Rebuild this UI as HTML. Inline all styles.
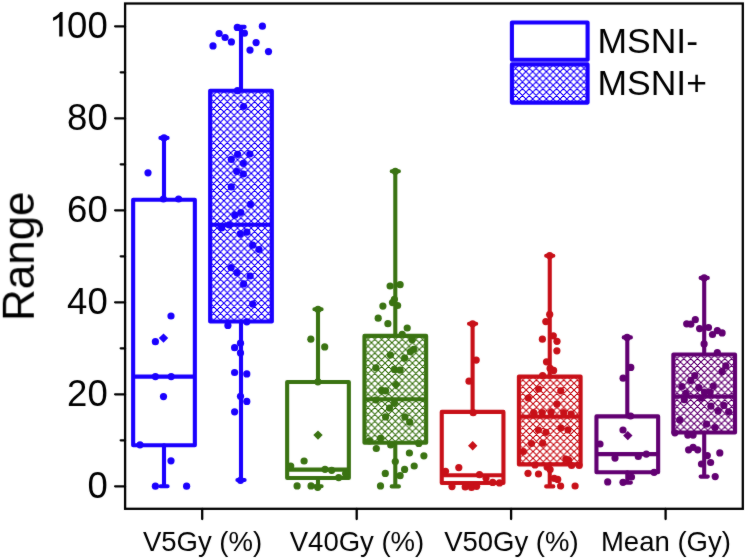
<!DOCTYPE html>
<html><head><meta charset="utf-8"><title>Box plot</title>
<style>
html,body{margin:0;padding:0;background:#fff;}
svg{display:block;}
text{font-family:"Liberation Sans",sans-serif;fill:#000;}
.yl{font-size:36.5px;}
.xl{font-size:27.5px;}
.at{font-size:44px;}
.lg{font-size:35.5px;}
</style></head>
<body>
<svg width="747" height="559" viewBox="0 0 747 559">
<defs><filter id="soft" x="0" y="0" width="747" height="559" filterUnits="userSpaceOnUse" color-interpolation-filters="sRGB"><feConvolveMatrix order="3" kernelMatrix="1 2 1 2 36 2 1 2 1" edgeMode="duplicate"/></filter><pattern id="h1" patternUnits="userSpaceOnUse" x="210.21" y="91.41" width="6.83" height="6.83"><path d="M-3.42,-3.42L10.25,10.25M10.25,-3.42L-3.42,10.25M-3.42,3.42L3.42,-3.42M3.42,10.25L10.25,3.42M-3.42,3.42L3.42,10.25M3.42,-3.42L10.25,3.42" stroke="#1a00ff" stroke-width="1.1" fill="none"/></pattern><pattern id="h3" patternUnits="userSpaceOnUse" x="364.61" y="335.8" width="6.83" height="6.83"><path d="M-3.42,-3.42L10.25,10.25M10.25,-3.42L-3.42,10.25M-3.42,3.42L3.42,-3.42M3.42,10.25L10.25,3.42M-3.42,3.42L3.42,10.25M3.42,-3.42L10.25,3.42" stroke="#3a7312" stroke-width="1.1" fill="none"/></pattern><pattern id="h5" patternUnits="userSpaceOnUse" x="519.38" y="376.4" width="6.83" height="6.83"><path d="M-3.42,-3.42L10.25,10.25M10.25,-3.42L-3.42,10.25M-3.42,3.42L3.42,-3.42M3.42,10.25L10.25,3.42M-3.42,3.42L3.42,10.25M3.42,-3.42L10.25,3.42" stroke="#c81018" stroke-width="1.1" fill="none"/></pattern><pattern id="h7" patternUnits="userSpaceOnUse" x="673.61" y="355.21" width="6.83" height="6.83"><path d="M-3.42,-3.42L10.25,10.25M10.25,-3.42L-3.42,10.25M-3.42,3.42L3.42,-3.42M3.42,10.25L10.25,3.42M-3.42,3.42L3.42,10.25M3.42,-3.42L10.25,3.42" stroke="#620072" stroke-width="1.1" fill="none"/></pattern><pattern id="hl" patternUnits="userSpaceOnUse" x="512.21" y="64.81" width="6.83" height="6.83"><path d="M-3.42,-3.42L10.25,10.25M10.25,-3.42L-3.42,10.25M-3.42,3.42L3.42,-3.42M3.42,10.25L10.25,3.42M-3.42,3.42L3.42,10.25M3.42,-3.42L10.25,3.42" stroke="#1a00ff" stroke-width="1.1" fill="none"/></pattern></defs>
<rect width="747" height="559" fill="#fff"/>
<rect x="210.15" y="90.7" width="61.7" height="230.8" fill="url(#h1)"/><rect x="364.45" y="335.9" width="61.7" height="106.8" fill="url(#h3)"/><rect x="518.9" y="376.6" width="61.7" height="87.8" fill="url(#h5)"/><rect x="673.35" y="354.5" width="61.7" height="78" fill="url(#h7)"/><rect x="511.9" y="64.4" width="75.7" height="38.2" fill="url(#hl)"/>
<g filter="url(#soft)">
<rect x="125.1" y="3.5" width="617.7" height="505.3" fill="none" stroke="#000" stroke-width="2.3"/>
<path d="M125.1,486.3H115.1M125.1,440.3H120.7M125.1,394.3H115.1M125.1,348.3H120.7M125.1,302.3H115.1M125.1,256.3H120.7M125.1,210.3H115.1M125.1,164.3H120.7M125.1,118.3H115.1M125.1,72.3H120.7M125.1,26.3H115.1M202.2,508.8V519.1M356.7,508.8V519.1M511.1,508.8V519.1M665.6,508.8V519.1" stroke="#000" stroke-width="2.3" stroke-linecap="round" fill="none"/>
<text x="107.7" y="497.7" text-anchor="end" class="yl">0</text>
<text x="107.7" y="405.7" text-anchor="end" class="yl">20</text>
<text x="107.7" y="313.7" text-anchor="end" class="yl">40</text>
<text x="107.7" y="221.7" text-anchor="end" class="yl">60</text>
<text x="107.7" y="129.7" text-anchor="end" class="yl">80</text>
<text x="107.7" y="37.7" text-anchor="end" class="yl">00</text>
<path d="M62.6,11.9L60.2,11.9C58.5,14.2 56,16.2 53.1,17.6L53.1,20.9C55.4,19.9 57.6,18.5 59.2,17L59.2,36.4L62.6,36.4Z" fill="#000"/>
<text x="202.5" y="550.6" text-anchor="middle" class="xl">V5Gy (%)</text>
<text x="357" y="550.6" text-anchor="middle" class="xl">V40Gy (%)</text>
<text x="511.4" y="550.6" text-anchor="middle" class="xl">V50Gy (%)</text>
<text x="665.9" y="550.6" text-anchor="middle" class="xl">Mean (Gy)</text>
<text transform="translate(33.8,256.3) rotate(-90)" text-anchor="middle" class="at">Range</text>
<path d="M164,199.7V137.9M160.4,137.9H167.6M164,445.2V486.3M160.4,486.3H167.6" stroke="#1a00ff" stroke-width="4.1" stroke-linecap="round" fill="none"/><rect x="133.15" y="199.7" width="61.7" height="245.5" fill="none" stroke="#1a00ff" stroke-width="4.1" stroke-linejoin="round"/><path d="M133.15,376.6H194.85" stroke="#1a00ff" stroke-width="4.1" fill="none"/><g fill="#1a00ff"><circle cx="148" cy="172.8" r="3.6"/><circle cx="164" cy="137.9" r="3.6"/><circle cx="163.4" cy="199" r="3.6"/><circle cx="178.6" cy="199" r="3.6"/><circle cx="171" cy="316" r="3.6"/><circle cx="155.4" cy="341.7" r="3.6"/><circle cx="155.4" cy="376.6" r="3.6"/><circle cx="171.2" cy="376.6" r="3.6"/><circle cx="163.5" cy="396.6" r="3.6"/><circle cx="140" cy="444.8" r="3.6"/><circle cx="171" cy="460.8" r="3.6"/><circle cx="155.4" cy="486.2" r="3.6"/><circle cx="186.6" cy="486.2" r="3.6"/></g><path d="M163.5,333.4L168.2,338.1L163.5,342.8L158.8,338.1Z" fill="#1a00ff"/>
<path d="M241,90.7V26.9M237.4,26.9H244.6M241,321.5V480M237.4,480H244.6" stroke="#1a00ff" stroke-width="4.1" stroke-linecap="round" fill="none"/><rect x="210.15" y="90.7" width="61.7" height="230.8" fill="none" stroke="#1a00ff" stroke-width="4.1" stroke-linejoin="round"/><path d="M210.15,224.8H271.85" stroke="#1a00ff" stroke-width="4.1" fill="none"/><g fill="#1a00ff"><circle cx="213" cy="45.9" r="3.6"/><circle cx="219.1" cy="33.5" r="3.6"/><circle cx="225.1" cy="37.5" r="3.6"/><circle cx="231.4" cy="41.9" r="3.6"/><circle cx="237.3" cy="27.4" r="3.6"/><circle cx="244.4" cy="33.2" r="3.6"/><circle cx="250" cy="50.1" r="3.6"/><circle cx="256.1" cy="42.6" r="3.6"/><circle cx="262.4" cy="26.2" r="3.6"/><circle cx="268.5" cy="51.6" r="3.6"/><circle cx="237.5" cy="90.7" r="3.6"/><circle cx="243.6" cy="106.5" r="3.6"/><circle cx="237.6" cy="154.3" r="3.6"/><circle cx="249.8" cy="154" r="3.6"/><circle cx="231.3" cy="159.3" r="3.6"/><circle cx="243.3" cy="163.3" r="3.6"/><circle cx="236.7" cy="171.3" r="3.6"/><circle cx="243.3" cy="174" r="3.6"/><circle cx="231.3" cy="186.9" r="3.6"/><circle cx="250.5" cy="204.4" r="3.6"/><circle cx="240.8" cy="212.5" r="3.6"/><circle cx="234.9" cy="215.2" r="3.6"/><circle cx="221.6" cy="227.9" r="3.6"/><circle cx="229.1" cy="224.9" r="3.6"/><circle cx="240.3" cy="233.8" r="3.6"/><circle cx="246.8" cy="232.2" r="3.6"/><circle cx="252.7" cy="245.2" r="3.6"/><circle cx="259" cy="249.5" r="3.6"/><circle cx="231.1" cy="267.6" r="3.6"/><circle cx="237" cy="272.7" r="3.6"/><circle cx="250.1" cy="276" r="3.6"/><circle cx="243.6" cy="283.9" r="3.6"/><circle cx="252.7" cy="304.1" r="3.6"/><circle cx="227.9" cy="325.4" r="3.6"/><circle cx="246.8" cy="321.8" r="3.6"/><circle cx="240.5" cy="343.2" r="3.6"/><circle cx="234.6" cy="347.7" r="3.6"/><circle cx="240.5" cy="352.9" r="3.6"/><circle cx="234.6" cy="372.5" r="3.6"/><circle cx="246.8" cy="373.9" r="3.6"/><circle cx="240.5" cy="396.3" r="3.6"/><circle cx="246.8" cy="401.4" r="3.6"/><circle cx="234.6" cy="411.8" r="3.6"/><circle cx="240.5" cy="480.3" r="3.6"/></g>
<path d="M318,382V309.3M314.4,309.3H321.6M318,478V486.3M314.4,486.3H321.6" stroke="#3a7312" stroke-width="4.1" stroke-linecap="round" fill="none"/><rect x="287.15" y="382" width="61.7" height="96" fill="none" stroke="#3a7312" stroke-width="4.1" stroke-linejoin="round"/><path d="M287.15,469.6H348.85" stroke="#3a7312" stroke-width="4.1" fill="none"/><g fill="#3a7312"><circle cx="318" cy="309.3" r="3.6"/><circle cx="310.8" cy="339.2" r="3.6"/><circle cx="324.7" cy="346.9" r="3.6"/><circle cx="317.9" cy="381.8" r="3.6"/><circle cx="304.1" cy="461" r="3.6"/><circle cx="290.7" cy="466" r="3.6"/><circle cx="325" cy="469.3" r="3.6"/><circle cx="331.7" cy="470.3" r="3.6"/><circle cx="338.7" cy="477.6" r="3.6"/><circle cx="345.6" cy="473.5" r="3.6"/><circle cx="297.1" cy="485.9" r="3.6"/><circle cx="311" cy="485.9" r="3.6"/><circle cx="317.7" cy="487.3" r="3.6"/></g><path d="M318,430.4L322.7,435.1L318,439.8L313.3,435.1Z" fill="#3a7312"/>
<path d="M395.3,335.9V171.3M391.7,171.3H398.9M395.3,442.7V486.4M391.7,486.4H398.9" stroke="#3a7312" stroke-width="4.1" stroke-linecap="round" fill="none"/><rect x="364.45" y="335.9" width="61.7" height="106.8" fill="none" stroke="#3a7312" stroke-width="4.1" stroke-linejoin="round"/><path d="M364.45,399.2H426.15" stroke="#3a7312" stroke-width="4.1" fill="none"/><g fill="#3a7312"><circle cx="395.3" cy="171.3" r="3.6"/><circle cx="390.1" cy="286" r="3.6"/><circle cx="400.1" cy="284.7" r="3.6"/><circle cx="394.4" cy="299.3" r="3.6"/><circle cx="392.5" cy="302.6" r="3.6"/><circle cx="397.6" cy="305.5" r="3.6"/><circle cx="382.9" cy="306.1" r="3.6"/><circle cx="378.2" cy="318.2" r="3.6"/><circle cx="387.9" cy="323.7" r="3.6"/><circle cx="407.2" cy="328" r="3.6"/><circle cx="402.2" cy="334.4" r="3.6"/><circle cx="412.1" cy="339.7" r="3.6"/><circle cx="413.8" cy="349.3" r="3.6"/><circle cx="410.5" cy="351.7" r="3.6"/><circle cx="390.4" cy="355" r="3.6"/><circle cx="404.6" cy="358.2" r="3.6"/><circle cx="375.9" cy="367.8" r="3.6"/><circle cx="394.4" cy="369.4" r="3.6"/><circle cx="400.1" cy="370.2" r="3.6"/><circle cx="381.6" cy="390.4" r="3.6"/><circle cx="385.6" cy="390.8" r="3.6"/><circle cx="375.9" cy="400" r="3.6"/><circle cx="394.4" cy="403.2" r="3.6"/><circle cx="389.6" cy="408.1" r="3.6"/><circle cx="385.6" cy="416.9" r="3.6"/><circle cx="404.9" cy="416.9" r="3.6"/><circle cx="409.7" cy="422.1" r="3.6"/><circle cx="380.5" cy="438.3" r="3.6"/><circle cx="369.5" cy="440.8" r="3.6"/><circle cx="418.8" cy="443.4" r="3.6"/><circle cx="390.7" cy="445" r="3.6"/><circle cx="376.3" cy="448.5" r="3.6"/><circle cx="409.4" cy="453" r="3.6"/><circle cx="423.9" cy="455.8" r="3.6"/><circle cx="395.3" cy="461.5" r="3.6"/><circle cx="414.2" cy="466" r="3.6"/><circle cx="404.6" cy="469.4" r="3.6"/><circle cx="385.3" cy="473.4" r="3.6"/><circle cx="400.1" cy="475.7" r="3.6"/><circle cx="380.5" cy="485.9" r="3.6"/></g><path d="M396,380L400.7,384.7L396,389.4L391.3,384.7Z" fill="#3a7312"/>
<path d="M472.6,411.9V323.8M469,323.8H476.2M472.6,483V486.3M469,486.3H476.2" stroke="#c81018" stroke-width="4.1" stroke-linecap="round" fill="none"/><rect x="441.75" y="411.9" width="61.7" height="71.1" fill="none" stroke="#c81018" stroke-width="4.1" stroke-linejoin="round"/><path d="M441.75,475.2H503.45" stroke="#c81018" stroke-width="4.1" fill="none"/><g fill="#c81018"><circle cx="472.6" cy="323.8" r="3.6"/><circle cx="476.2" cy="360.1" r="3.6"/><circle cx="469" cy="381.2" r="3.6"/><circle cx="473.2" cy="412.7" r="3.6"/><circle cx="458.8" cy="467.6" r="3.6"/><circle cx="445.5" cy="471.3" r="3.6"/><circle cx="479.5" cy="474.7" r="3.6"/><circle cx="486" cy="478.1" r="3.6"/><circle cx="492.7" cy="482.4" r="3.6"/><circle cx="499.5" cy="482.9" r="3.6"/><circle cx="452" cy="486.6" r="3.6"/><circle cx="465.2" cy="487" r="3.6"/><circle cx="471.5" cy="487.5" r="3.6"/><circle cx="476.6" cy="486.3" r="3.6"/></g><path d="M472.7,441.1L477.4,445.8L472.7,450.5L468,445.8Z" fill="#c81018"/>
<path d="M549.75,376.6V255.7M546.15,255.7H553.35M549.75,464.4V486.4M546.15,486.4H553.35" stroke="#c81018" stroke-width="4.1" stroke-linecap="round" fill="none"/><rect x="518.9" y="376.6" width="61.7" height="87.8" fill="none" stroke="#c81018" stroke-width="4.1" stroke-linejoin="round"/><path d="M518.9,416.7H580.6" stroke="#c81018" stroke-width="4.1" fill="none"/><g fill="#c81018"><circle cx="549.7" cy="255.7" r="3.6"/><circle cx="549.7" cy="314.4" r="3.6"/><circle cx="545.8" cy="321.6" r="3.6"/><circle cx="542.4" cy="339.2" r="3.6"/><circle cx="553.3" cy="335.8" r="3.6"/><circle cx="557" cy="341.3" r="3.6"/><circle cx="556.9" cy="350.8" r="3.6"/><circle cx="546.5" cy="361.8" r="3.6"/><circle cx="550.1" cy="368.4" r="3.6"/><circle cx="553.6" cy="370.4" r="3.6"/><circle cx="542.6" cy="375.5" r="3.6"/><circle cx="538.6" cy="389" r="3.6"/><circle cx="560.8" cy="390.8" r="3.6"/><circle cx="528.3" cy="398" r="3.6"/><circle cx="556.9" cy="404.1" r="3.6"/><circle cx="533.7" cy="412.7" r="3.6"/><circle cx="542.2" cy="412.7" r="3.6"/><circle cx="551.1" cy="412.2" r="3.6"/><circle cx="563.7" cy="412.7" r="3.6"/><circle cx="571.2" cy="414.1" r="3.6"/><circle cx="538.4" cy="430" r="3.6"/><circle cx="545.9" cy="432.3" r="3.6"/><circle cx="560.9" cy="428.1" r="3.6"/><circle cx="568" cy="429.8" r="3.6"/><circle cx="531.5" cy="443.5" r="3.6"/><circle cx="542.7" cy="443.2" r="3.6"/><circle cx="523.4" cy="451.5" r="3.6"/><circle cx="565.8" cy="459.1" r="3.6"/><circle cx="568.7" cy="460.2" r="3.6"/><circle cx="535" cy="464.9" r="3.6"/><circle cx="547.2" cy="467.2" r="3.6"/><circle cx="550.1" cy="469.5" r="3.6"/><circle cx="571.6" cy="465.5" r="3.6"/><circle cx="579.2" cy="465.5" r="3.6"/><circle cx="528" cy="473.3" r="3.6"/><circle cx="538.5" cy="474" r="3.6"/><circle cx="554.2" cy="478.3" r="3.6"/><circle cx="557.7" cy="479.4" r="3.6"/><circle cx="560.6" cy="486" r="3.6"/><circle cx="575.1" cy="486" r="3.6"/></g>
<path d="M627.3,416.4V337.4M623.7,337.4H630.9M627.3,472.2V482.6M623.7,482.6H630.9" stroke="#620072" stroke-width="4.1" stroke-linecap="round" fill="none"/><rect x="596.45" y="416.4" width="61.7" height="55.8" fill="none" stroke="#620072" stroke-width="4.1" stroke-linejoin="round"/><path d="M596.45,454.1H658.15" stroke="#620072" stroke-width="4.1" fill="none"/><g fill="#620072"><circle cx="627.1" cy="337.4" r="3.6"/><circle cx="630.8" cy="367.4" r="3.6"/><circle cx="623.1" cy="378.2" r="3.6"/><circle cx="630.6" cy="416" r="3.6"/><circle cx="623" cy="430" r="3.6"/><circle cx="600" cy="444" r="3.6"/><circle cx="615" cy="458.1" r="3.6"/><circle cx="638.3" cy="456.5" r="3.6"/><circle cx="646.3" cy="454.1" r="3.6"/><circle cx="654.1" cy="472.3" r="3.6"/><circle cx="631.5" cy="477" r="3.6"/><circle cx="607.7" cy="481.9" r="3.6"/><circle cx="623" cy="482.3" r="3.6"/></g><path d="M627.8,430.9L632.5,435.6L627.8,440.3L623.1,435.6Z" fill="#620072"/>
<path d="M704.2,354.5V277.9M700.6,277.9H707.8M704.2,432.5V476.6M700.6,476.6H707.8" stroke="#620072" stroke-width="4.1" stroke-linecap="round" fill="none"/><rect x="673.35" y="354.5" width="61.7" height="78" fill="none" stroke="#620072" stroke-width="4.1" stroke-linejoin="round"/><path d="M673.35,396.5H735.05" stroke="#620072" stroke-width="4.1" fill="none"/><g fill="#620072"><circle cx="704.2" cy="277.9" r="3.6"/><circle cx="686.7" cy="323.8" r="3.6"/><circle cx="690.8" cy="324.2" r="3.6"/><circle cx="695.3" cy="319.7" r="3.6"/><circle cx="699.6" cy="328.6" r="3.6"/><circle cx="708.5" cy="327.5" r="3.6"/><circle cx="712.5" cy="334.5" r="3.6"/><circle cx="717.3" cy="330.7" r="3.6"/><circle cx="722.1" cy="332.9" r="3.6"/><circle cx="704.1" cy="343.9" r="3.6"/><circle cx="717.3" cy="352.7" r="3.6"/><circle cx="725.8" cy="365.9" r="3.6"/><circle cx="722.1" cy="371.6" r="3.6"/><circle cx="694.8" cy="375.6" r="3.6"/><circle cx="690.8" cy="380.4" r="3.6"/><circle cx="713.3" cy="386" r="3.6"/><circle cx="681.9" cy="386.5" r="3.6"/><circle cx="698.8" cy="387.7" r="3.6"/><circle cx="685.9" cy="393.3" r="3.6"/><circle cx="704.4" cy="392" r="3.6"/><circle cx="710.1" cy="392" r="3.6"/><circle cx="684.3" cy="399.7" r="3.6"/><circle cx="701.2" cy="398.1" r="3.6"/><circle cx="710.9" cy="406.2" r="3.6"/><circle cx="723.8" cy="405.4" r="3.6"/><circle cx="718.1" cy="411" r="3.6"/><circle cx="728.6" cy="411.8" r="3.6"/><circle cx="679.8" cy="419.9" r="3.6"/><circle cx="706.5" cy="424.2" r="3.6"/><circle cx="715" cy="427.5" r="3.6"/><circle cx="674.9" cy="432.8" r="3.6"/><circle cx="687.8" cy="435.1" r="3.6"/><circle cx="693.1" cy="435.1" r="3.6"/><circle cx="688.6" cy="449.8" r="3.6"/><circle cx="693.1" cy="447.3" r="3.6"/><circle cx="697.7" cy="449.8" r="3.6"/><circle cx="707.3" cy="455.6" r="3.6"/><circle cx="719.8" cy="452.9" r="3.6"/><circle cx="701.5" cy="464" r="3.6"/><circle cx="710.6" cy="462.5" r="3.6"/><circle cx="715.2" cy="476.6" r="3.6"/></g>
<rect x="511.9" y="22.5" width="75.7" height="37.3" fill="none" stroke="#1a00ff" stroke-width="4.1" stroke-linejoin="round"/>
<rect x="511.9" y="64.4" width="75.7" height="38.2" fill="none" stroke="#1a00ff" stroke-width="4.1" stroke-linejoin="round"/>
<text x="597.4" y="53" class="lg">MSNI-</text>
<text x="597.4" y="95" class="lg">MSNI+</text>
</g>
</svg>
</body></html>
